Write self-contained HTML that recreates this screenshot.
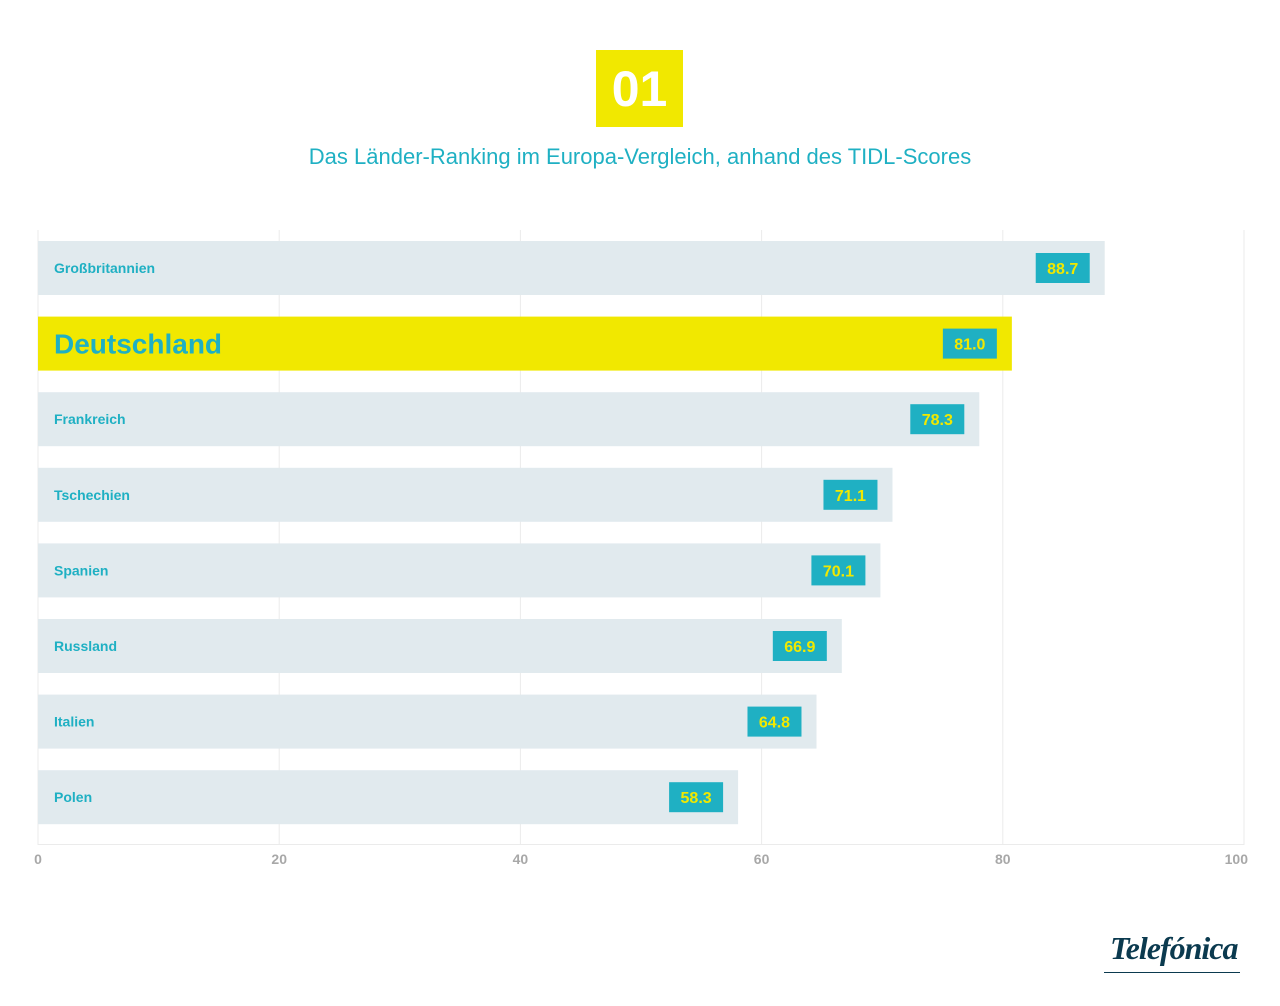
<!DOCTYPE html>
<html><head><meta charset="utf-8"><style>
body{margin:0;width:1280px;height:1006px;background:#fff;font-family:"Liberation Sans",sans-serif;position:relative;overflow:hidden}
.badge{position:absolute;left:596px;top:50px;width:87px;height:77px;background:#f1e800;color:#fff;font-weight:bold;font-size:50px;text-align:center;line-height:79px}
.title{position:absolute;left:0;width:1280px;top:144px;text-align:center;color:#1fb0c3;font-size:22px}
.logo{position:absolute;left:1110px;top:930px;font-family:"Liberation Serif",serif;font-style:italic;font-weight:bold;font-size:32px;color:#0b3a4f;letter-spacing:-1px}
.logoline{position:absolute;left:1104px;top:972px;width:136px;height:1px;background:#0b3a4f}
</style></head><body>
<div class="badge">01</div>
<div class="title">Das Länder-Ranking im Europa-Vergleich, anhand des TIDL-Scores</div>
<svg id="chart" width="1280" height="900" style="position:absolute;left:0;top:0"></svg>
<div class="logo">Telefónica</div>
<div class="logoline"></div>
<script>
const countries=["Großbritannien","Deutschland","Frankreich","Tschechien","Spanien","Russland","Italien","Polen"];
const scores=[88.7,81.0,78.3,71.1,70.1,66.9,64.8,58.3];
const ticks=[0,20,40,60,80,100];
const highlight="Deutschland";
const NS="http://www.w3.org/2000/svg";
const svg=document.getElementById('chart');
const x0=38,x1=1244;
const xs=v=>x0+(x1-x0)*v/100;
const top0=241,pitch=75.6,bh=54;
function mk(t,a){const e=document.createElementNS(NS,t);for(const k in a)e.setAttribute(k,a[k]);svg.appendChild(e);return e;}
ticks.forEach((t,i)=>{
  const g=mk('line',{x1:xs(t),x2:xs(t),y1:230,y2:845,stroke:'#ebebeb','stroke-width':1});
  
  
  const last=i===ticks.length-1;
  const l=mk('text',{x:last?xs(t)+4:xs(t),y:864,'text-anchor':last?'end':'middle','font-size':14,'font-weight':'bold',fill:'#a8a8a8'});
  l.textContent=t;
  
  
});
const ax=mk('line',{x1:x0,x2:x1,y1:844.5,y2:844.5,stroke:'#ebebeb'});


countries.forEach((c,i)=>{
  const y=top0+i*pitch, hl=c===highlight, v=scores[i];
  const end=xs(v)-3;
  const r=mk('rect',{x:x0,y:y,width:end-x0,height:bh,fill:hl?'#f1e800':'#e1eaee'});
  
  
  const t=mk('text',{x:54,y:y+bh/2+(hl?10:5),'font-size':hl?28:14,'font-weight':'bold',fill:'#1fb0c3'});
  t.textContent=c;
  
  
  const b=mk('rect',{x:end-69,y:y+12,width:54,height:30,fill:'#1fb0c3'});
  
  
  const vt=mk('text',{x:end-42,y:y+33,'text-anchor':'middle','font-size':16,'font-weight':'bold',fill:'#f1e800'});
  vt.textContent=v.toFixed(1);
  
  
});
</script>
</body></html>
